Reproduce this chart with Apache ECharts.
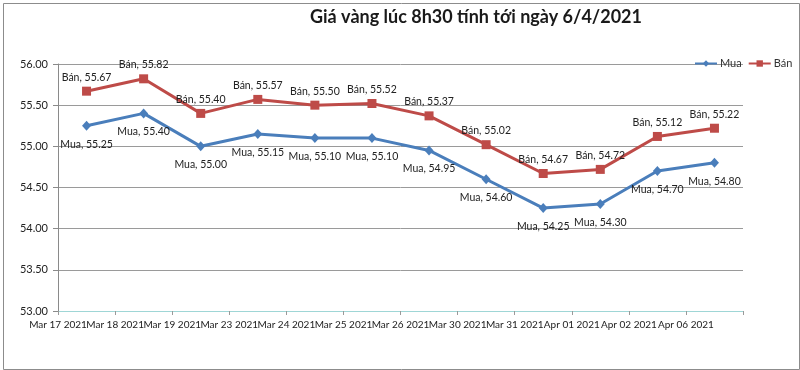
<!DOCTYPE html>
<html>
<head>
<meta charset="utf-8">
<script src="https://cdn.jsdelivr.net/npm/echarts@6/dist/echarts.min.js"></script>
<style>
html,body{margin:0;padding:0;background:#fff;}
#c{width:800px;height:370px;}
</style>
</head>
<body>
<div id="c"></div>
<script>
const categories = ['Mar 17 2021','Mar 18 2021','Mar 19 2021','Mar 23 2021','Mar 24 2021','Mar 25 2021','Mar 26 2021','Mar 30 2021','Mar 31 2021','Apr 01 2021','Apr 02 2021','Apr 06 2021'];
const muaValues = [55.25, 55.40, 55.00, 55.15, 55.10, 55.10, 54.95, 54.60, 54.25, 54.30, 54.70, 54.80];
const banValues = [55.67, 55.82, 55.40, 55.57, 55.50, 55.52, 55.37, 55.02, 54.67, 54.72, 55.12, 55.22];
const titleText = 'Giá vàng lúc 8h30 tính tới ngày 6/4/2021';
const FONT = 'Lato, "Liberation Sans", sans-serif';

const chart = echarts.init(document.getElementById('c'), null, {renderer:'canvas'});
const labelFmt = p => p.seriesName + ', ' + p.value.toFixed(2);
chart.setOption({
  animation: false,
  backgroundColor: '#fff',
  title: {
    text: titleText, left: 305, top: 3,
    textStyle: {fontFamily: FONT, fontSize: 18, fontWeight: 'bold', color: '#1a1a1a'}
  },
  graphic: [{
    type: 'rect', left: 1, top: 1, silent: true,
    shape: {width: 796, height: 366},
    style: {fill: 'none', stroke: '#8c8c8c', lineWidth: 1}
  }],
  legend: {
    orient: 'horizontal', left: 694, top: 58, width: 110, padding: 0,
    itemWidth: 22, itemHeight: 8, itemGap: 6,
    textStyle: {fontFamily: FONT, fontSize: 11, color: '#333', padding: [0,0,0,-2]},
    data: ['Mua', 'Bán']
  },
  grid: {left: 58, right: 57, top: 64, bottom: 59},
  xAxis: {
    type: 'category', data: categories, boundaryGap: true,
    axisLine: {lineStyle: {color: '#9fd6d6', width: 1}},
    axisTick: {show: true, length: 4, lineStyle: {color: '#9a9a9a'}},
    axisLabel: {
      interval: 0, margin: 9, fontFamily: FONT, fontSize: 10, color: '#222',
      padding: [0, 57, 0, 0]
    }
  },
  yAxis: {
    type: 'value', min: 53, max: 56, interval: 0.5,
    axisLine: {show: true, lineStyle: {color: '#8a8a8a'}},
    axisTick: {show: true, length: 5, lineStyle: {color: '#8a8a8a'}},
    axisLabel: {margin: 10, fontFamily: FONT, fontSize: 11, color: '#222', formatter: v => v.toFixed(2)},
    splitLine: {lineStyle: {color: '#9a9a9a', width: 1}}
  },
  series: [
    {
      name: 'Mua', type: 'line', data: muaValues,
      symbol: 'diamond', symbolSize: [9, 10],
      itemStyle: {color: '#4a7ebb'},
      lineStyle: {color: '#4a7ebb', width: 3},
      label: {show: true, position: 'bottom', distance: 8, formatter: labelFmt,
        fontFamily: FONT, fontSize: 10.5, color: '#222'}
    },
    {
      name: 'Bán', type: 'line', data: banValues,
      symbol: 'rect', symbolSize: 9,
      itemStyle: {color: '#be4b48'},
      lineStyle: {color: '#be4b48', width: 3},
      label: {show: true, position: 'top', distance: 4, formatter: labelFmt,
        fontFamily: FONT, fontSize: 10.5, color: '#222'}
    }
  ]
});
</script>
</body>
</html>
